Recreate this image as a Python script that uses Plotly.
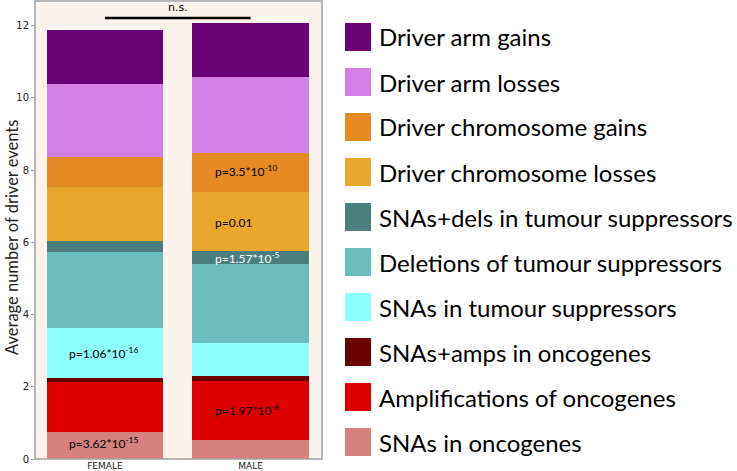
import plotly.graph_objects as go

# ---------------- data ----------------
groups = ["FEMALE", "MALE"]
categories = [
    "SNAs in oncogenes",
    "Amplifications of oncogenes",
    "SNAs+amps in oncogenes",
    "SNAs in tumour suppressors",
    "Deletions of tumour suppressors",
    "SNAs+dels in tumour suppressors",
    "Driver chromosome losses",
    "Driver chromosome gains",
    "Driver arm losses",
    "Driver arm gains",
]
female_values = [0.74, 1.38, 0.13, 1.39, 2.10, 0.30, 1.48, 0.85, 2.00, 1.52]
male_values = [0.53, 1.63, 0.13, 0.93, 2.18, 0.35, 1.63, 1.08, 2.12, 1.49]
colors = [
    "#D88080", "#DD0000", "#6B0000", "#8CFFFF", "#6ABEBE",
    "#4A7F7E", "#E9A628", "#E68A24", "#D47FE6", "#6B0078",
]
y_ticks = [0, 2, 4, 6, 8, 10, 12]

# p-value annotations: (group index, y value, text, colour)
pval_groups = [0, 0, 1, 1, 1, 1]
pval_y = [0.44, 2.94, 1.37, 5.57, 6.55, 7.97]
pval_text = [
    "p=3.62*10<sup>-15</sup>",
    "p=1.06*10<sup>-16</sup>",
    "p=1.97*10<sup>-6</sup>",
    "p=1.57*10<sup>-5</sup>",
    "p=0.01",
    "p=3.5*10<sup>-10</sup>",
]
pval_color = ["black", "black", "black", "white", "black", "black"]
sig_label = "n.s."
sig_level = 12.21

# ---------------- layout geometry (pixels) ----------------
W, H = 737, 471
PL, PR, PT, PB = 35, 322, 1, 459  # plot area edges


def px_x(p):
    return (p - PL) / (PR - PL)


def px_y(p):
    return (PB - p) / (PB - PT)


fig = go.Figure()
for i, cat in enumerate(categories):
    fig.add_trace(go.Bar(
        x=groups,
        y=[female_values[i], male_values[i]],
        name=cat,
        marker=dict(color=colors[i], line=dict(width=0)),
        width=0.8,
        showlegend=False,
        hoverinfo="name+y",
    ))

annotations = []
for g, yv, t, c in zip(pval_groups, pval_y, pval_text, pval_color):
    annotations.append(dict(
        x=g - 0.26, y=yv, xref="x", yref="y", text=t, showarrow=False,
        xanchor="left", yanchor="middle",
        font=dict(family="Lato", size=12, color=c),
    ))

annotations.append(dict(
    x=0.5, y=12.5, xref="x", yref="y", text=sig_label, showarrow=False,
    xanchor="center", yanchor="middle",
    font=dict(family="DejaVu Sans", size=11, color="black"),
))

# y-axis title
annotations.append(dict(
    x=px_x(12), y=px_y(238), xref="paper", yref="paper",
    text="Average number of driver events", textangle=-90, showarrow=False,
    xanchor="center", yanchor="middle",
    font=dict(family="Lato", size=16.5, color="#222222"),
))

shapes = [
    dict(type="line", xref="x", yref="y", x0=0, x1=1, y0=sig_level, y1=sig_level,
         line=dict(color="black", width=2.5)),
    dict(type="rect", xref="paper", yref="paper", x0=0, x1=1, y0=0, y1=1,
         line=dict(color="#A0A0A0", width=1.5), layer="above"),
]

# manual legend (top to bottom: reverse stacking order)
for k, i in enumerate(range(len(categories) - 1, -1, -1)):
    cy = 37 + 45 * k
    shapes.append(dict(
        type="rect", xref="paper", yref="paper",
        x0=px_x(345), x1=px_x(371), y0=px_y(cy + 14), y1=px_y(cy - 14),
        fillcolor=colors[i], line=dict(width=0),
    ))
    annotations.append(dict(
        x=px_x(377), y=px_y(cy), xref="paper", yref="paper",
        text=categories[i], showarrow=False, xanchor="left", yanchor="middle",
        font=dict(family="Lato", size=24, color="black"),
    ))

fig.update_layout(
    width=W, height=H,
    barmode="stack",
    bargap=0.2,
    paper_bgcolor="white",
    plot_bgcolor="#FBF3EC",
    margin=dict(l=PL, r=W - PR, t=PT, b=H - PB, autoexpand=False),
    xaxis=dict(
        range=[-0.48, 1.49], showgrid=False, zeroline=False,
        showline=False, ticks="",
        tickfont=dict(family="DejaVu Sans", size=9, color="#222222"),
    ),
    yaxis=dict(
        range=[0, 12.68], tickvals=y_ticks, showgrid=False, zeroline=False,
        showline=False, ticks="outside", ticklen=3, tickcolor="#A0A0A0",
        tickfont=dict(family="DejaVu Sans", size=10, color="#222222"),
    ),
    annotations=annotations,
    shapes=shapes,
)

fig.write_html(
    "out.html",
    config={"displayModeBar": False},
    post_script="document.body.style.margin='0px';",
)
